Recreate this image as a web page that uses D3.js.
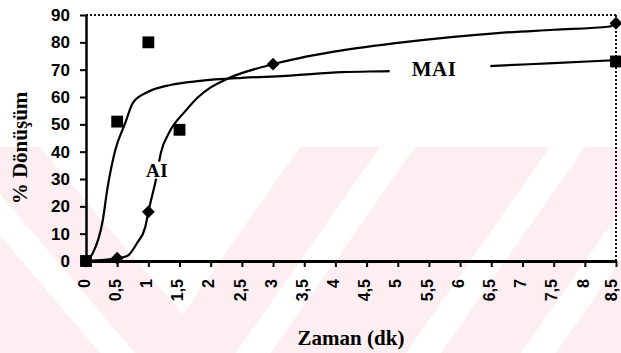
<!DOCTYPE html>
<html>
<head>
<meta charset="utf-8">
<script src="https://cdn.jsdelivr.net/npm/d3@7"></script>
<style>
  body { margin: 0; background: #fff; }
  svg { display: block; }
</style>
</head>
<body>
<svg id="chart" width="621" height="353"></svg>
<script>
// Axis ticks
const xTickValues = [0, 0.5, 1, 1.5, 2, 2.5, 3, 3.5, 4, 4.5, 5, 5.5, 6, 6.5, 7, 7.5, 8, 8.5];
const yTickValues = [0, 10, 20, 30, 40, 50, 60, 70, 80, 90];

// Measured conversions (%), time in minutes
const maiTimes  = [0, 0.5, 1, 1.5, 8.5];
const maiValues = [0, 51, 80, 48, 73];
const aiTimes   = [0, 0.5, 1, 3, 8.5];
const aiValues  = [0, 1, 18, 72, 87];

// Fitted trend curves
const maiFitTimes  = [0, 0.11, 0.27, 0.34, 0.47, 0.63, 0.75, 0.99, 1.35, 1.83, 2.5, 3.2, 4.1, 4.9, 5.7, 6.46, 7.5, 8.5];
const maiFitValues = [0, 2.9, 15, 26, 40.6, 50.5, 57.8, 61.8, 64.4, 65.9, 67, 67.7, 69.1, 69.5, 70.3, 71.3, 72.4, 73.5];
const aiFitTimes   = [0, 0.3, 0.5, 0.66, 0.82, 0.95, 1, 1.13, 1.2, 1.33, 1.6, 1.8, 2.0, 2.3, 3, 3.95, 5, 6.6, 7.5, 8.4, 8.5];
const aiFitValues  = [0, 0.4, 1, 1.8, 6.6, 12.4, 18, 30.7, 39.5, 46.8, 55, 60, 63.5, 67, 72, 76.5, 79.8, 83.4, 84.6, 85.8, 87];

const svg = d3.select("#chart");
const W = 621, H = 353;
const margin = { left: 86, right: 5, top: 15, bottom: 92 };

const x = d3.scaleLinear().domain([0, 8.5]).range([margin.left, W - margin.right]);
const y = d3.scaleLinear().domain([0, 90]).range([H - margin.bottom, margin.top]);

// Pale chevron pattern in the lower background
const pink = "#fdeef1";
const bg = svg.append("g");
bg.append("clipPath").attr("id", "bgclip")
  .append("rect").attr("x", 0).attr("y", 147).attr("width", W).attr("height", H - 147);
const bgg = bg.append("g").attr("clip-path", "url(#bgclip)");
bgg.append("rect").attr("x", 0).attr("y", 147).attr("width", W).attr("height", H - 147).attr("fill", pink);
function chevron(o) {
  const t = (260 + 2 * o) / 1.55;
  return [[40 - o, 147], [300 + o, 147], [40 - o + 0.85 * t, 147 + t]];
}
[[400, "#fff"], [365, pink], [285, "#fff"], [250, pink], [115, "#fff"], [80, pink], [0, "#fff"]].forEach(([o, c]) => {
  bgg.append("path").attr("d", d3.line()(chevron(o)) + "Z").attr("fill", c);
});

// Dotted frame (top and right)
const frame = svg.append("g").attr("stroke", "#111").attr("stroke-width", 2).attr("stroke-dasharray", "2,2").attr("fill", "none");
frame.append("line").attr("x1", x(0)).attr("x2", x(8.5)).attr("y1", y(90)).attr("y2", y(90));
frame.append("line").attr("x1", x(8.5)).attr("x2", x(8.5)).attr("y1", y(90)).attr("y2", y(0));

// Axes
const yAxis = svg.append("g")
  .attr("transform", `translate(${margin.left},0)`)
  .call(d3.axisLeft(y).tickValues(yTickValues).tickSize(6).tickSizeOuter(0).tickPadding(10));
yAxis.select(".domain").attr("stroke", "#000").attr("stroke-width", 2.5);
yAxis.selectAll(".tick line").attr("stroke", "#000").attr("stroke-width", 2);
yAxis.selectAll(".tick text")
  .attr("font-family", "'Liberation Sans', Arial, sans-serif")
  .attr("font-weight", "bold").attr("font-size", 17).attr("fill", "#000");

const xAxis = svg.append("g")
  .attr("transform", `translate(0,${y(0)})`)
  .call(d3.axisBottom(x).tickValues(xTickValues).tickSize(6).tickSizeOuter(0)
    .tickFormat(d => String(d).replace(".", ",")));
xAxis.select(".domain").attr("stroke", "#000").attr("stroke-width", 3);
xAxis.selectAll(".tick line").attr("stroke", "#000").attr("stroke-width", 2);
xAxis.selectAll(".tick text")
  .attr("transform", "rotate(-90)")
  .attr("text-anchor", "end")
  .attr("x", -18).attr("y", (d, i, n) => i === n.length - 1 ? -3 : 0).attr("dy", "0.2em")
  .attr("font-family", "'Liberation Sans', Arial, sans-serif")
  .attr("font-weight", "bold").attr("font-size", 16).attr("fill", "#000");

// Axis titles
svg.append("text")
  .attr("transform", "translate(27,148) rotate(-90)")
  .attr("text-anchor", "middle")
  .attr("font-family", "'Liberation Serif', 'Times New Roman', serif")
  .attr("font-weight", "bold").attr("font-size", 21)
  .text("% Dönüşüm");
svg.append("text")
  .attr("x", (x(0) + x(8.5)) / 2).attr("y", 345)
  .attr("text-anchor", "middle")
  .attr("font-family", "'Liberation Serif', 'Times New Roman', serif")
  .attr("font-weight", "bold").attr("font-size", 21)
  .text("Zaman (dk)");

// Trend curves
const line = d3.line().x(d => x(d[0])).y(d => y(d[1])).curve(d3.curveMonotoneX);
const curves = svg.append("g").attr("fill", "none").attr("stroke", "#000").attr("stroke-width", 2.2);
curves.append("path").attr("d", line(maiFitTimes.map((t, i) => [t, maiFitValues[i]])));
curves.append("path").attr("d", line(aiFitTimes.map((t, i) => [t, aiFitValues[i]])));

// Series labels on a white patch that interrupts the curve
function seriesLabel(txt, cx, cy, size, padL, padR, padY) {
  const g = svg.append("g");
  const r = g.append("rect").attr("fill", "#fff");
  const t = g.append("text").attr("x", cx).attr("y", cy).attr("dy", "0.35em")
    .attr("text-anchor", "middle")
    .attr("font-family", "'Liberation Serif', 'Times New Roman', serif")
    .attr("font-weight", "bold").attr("font-size", size).attr("letter-spacing", 0.5)
    .text(txt);
  const b = t.node().getBBox();
  r.attr("x", b.x - padL).attr("y", b.y + padY).attr("width", b.width + padL + padR).attr("height", b.height - 2 * padY);
}
seriesLabel("MAI", 434, y(70.3), 21, 22, 34, 3);
seriesLabel("AI", 157, 170, 19, 0, 0, 2);

// Markers
const markers = svg.append("g").attr("fill", "#000");
markers.selectAll("path.sq")
  .data(maiTimes.map((t, i) => [t, maiValues[i]]))
  .join("path").attr("class", "sq")
  .attr("transform", d => `translate(${x(d[0])},${y(d[1])})`)
  .attr("d", d3.symbol(d3.symbolSquare, 140)());
markers.selectAll("path.dm")
  .data(aiTimes.map((t, i) => [t, aiValues[i]]))
  .join("path").attr("class", "dm")
  .attr("transform", d => `translate(${x(d[0])},${y(d[1])}) rotate(45)`)
  .attr("d", d3.symbol(d3.symbolSquare, 82)());
</script>
</body>
</html>
